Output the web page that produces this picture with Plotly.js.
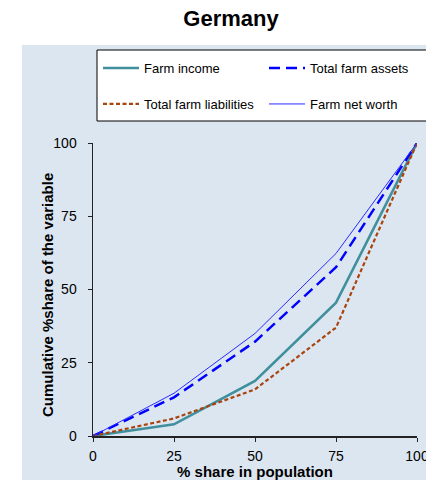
<!DOCTYPE html>
<html>
<head>
<meta charset="utf-8">
<script src="https://cdn.plot.ly/plotly-3.0.1.min.js"></script>
<style>html,body{margin:0;padding:0;background:#fff;} #chart{width:426px;height:480px;}</style>
</head>
<body>
<div id="chart"></div>
<script>
// Data (Lorenz-type curves, Germany)
var populationShare = [0, 25, 50, 75, 100];
var farmIncome = [0, 4.0, 18.8, 45.5, 100];
var totalFarmAssets = [0, 13.2, 32.2, 57.6, 100];
var totalFarmLiabilities = [0, 6.0, 15.9, 37.0, 100];
var farmNetWorth = [0, 14.6, 35.0, 62.3, 100];
var tickValues = [0, 25, 50, 75, 100];
var tickLabels = ['0', '25', '50', '75', '100'];

var FONT = 'Liberation Sans, Arial, sans-serif';
var BG = '#dce6f1';

var traces = [
  {x: populationShare, y: farmIncome, name: 'Farm income', mode: 'lines',
   line: {color: '#3f8f9c', width: 2.5}, legend: 'legend'},
  {x: populationShare, y: totalFarmAssets, name: 'Total farm assets', mode: 'lines',
   line: {color: '#0000ff', width: 2.5, dash: '11px,6px'}, legend: 'legend2'},
  {x: populationShare, y: totalFarmLiabilities, name: 'Total farm liabilities', mode: 'lines',
   line: {color: '#a9440f', width: 2.2, dash: '4px,2.5px'}, legend: 'legend3'},
  {x: populationShare, y: farmNetWorth, name: 'Farm net worth', mode: 'lines',
   line: {color: '#2a2aff', width: 1}, legend: 'legend4'}
];

function leg(xpx, ypx) {
  return {xref: 'container', yref: 'container', x: xpx / 426, y: 1 - ypx / 480,
          xanchor: 'left', yanchor: 'middle', orientation: 'h', itemwidth: 36,
          bgcolor: 'rgba(0,0,0,0)', borderwidth: 0,
          font: {family: FONT, size: 13, color: '#000'}};
}

var layout = {
  width: 426, height: 480,
  margin: {l: 93, r: 9, t: 143, b: 44},
  paper_bgcolor: '#ffffff',
  plot_bgcolor: BG,
  title: {text: '<b>Germany</b>', font: {family: FONT, size: 22, color: '#000'},
          xref: 'container', yref: 'container', x: 231 / 426, y: 1 - 18 / 480,
          xanchor: 'center', yanchor: 'middle'},
  xaxis: {range: [0, 100], tickvals: tickValues, ticktext: tickLabels,
          ticks: 'outside', ticklen: 4, tickcolor: '#222', showline: true, linecolor: '#222', linewidth: 1.5,
          showgrid: false, zeroline: false, fixedrange: true, ticklabelstandoff: 3,
          ticklabeloverflow: 'allow',
          tickfont: {family: FONT, size: 14, color: '#000'},
          title: {text: '<b>% share in population</b>', standoff: 3, font: {family: FONT, size: 15, color: '#000'}}},
  yaxis: {range: [0, 100], tickvals: tickValues, ticktext: tickLabels,
          ticks: 'outside', ticklen: 4, tickcolor: '#222', showline: true, linecolor: '#222', linewidth: 1.5,
          showgrid: false, zeroline: false, fixedrange: true, ticklabelstandoff: 8,
          ticklabeloverflow: 'allow',
          tickfont: {family: FONT, size: 14, color: '#000'}},
  annotations: [
    {text: '<b>Cumulative %share of the variable</b>', textangle: -90, showarrow: false,
     xref: 'paper', yref: 'paper', x: (47 - 93) / 324, y: (436 - 295) / 293,
     xanchor: 'center', yanchor: 'middle', font: {family: FONT, size: 15, color: '#000'}}
  ],
  showlegend: true,
  legend: leg(98, 68),
  legend2: leg(264, 68),
  legend3: leg(98, 104),
  legend4: leg(264, 104),
  shapes: [
    {type: 'rect', xref: 'paper', yref: 'paper', layer: 'below',
     x0: (22 - 93) / 324, x1: (440 - 93) / 324, y0: (436 - 490) / 293, y1: (436 - 45) / 293,
     fillcolor: BG, line: {width: 0}},
    {type: 'rect', xref: 'paper', yref: 'paper', layer: 'above',
     x0: (97 - 93) / 324, x1: (440 - 93) / 324, y0: (436 - 121) / 293, y1: (436 - 50) / 293,
     fillcolor: '#ffffff', line: {color: '#000', width: 1}}
  ]
};

Plotly.newPlot('chart', traces, layout, {staticPlot: true, displayModeBar: false});
</script>
</body>
</html>
